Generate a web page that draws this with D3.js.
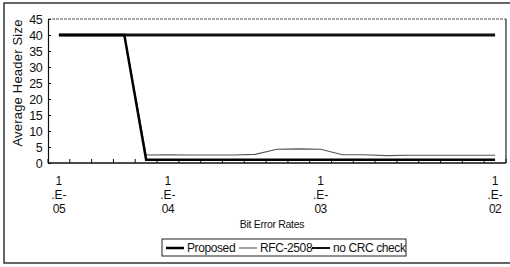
<!DOCTYPE html>
<html>
<head>
<meta charset="utf-8">
<script src="https://cdn.jsdelivr.net/npm/d3@7"></script>
<style>
    body { margin: 0; background: #fff; }
    text { font-family: "Liberation Sans", Arial, sans-serif; fill: #111; }
</style>
</head>
<body>
<svg id="chart" width="510" height="267"></svg>
<script>
"use strict";

// bit error rates (category axis)
const categories = ["1E-5", "2E-5", "3E-5", "4E-5", "6E-5", "1E-4", "2E-4", "3E-4", "4E-4", "5E-4", "6E-4",
    "8E-4", "1E-3", "1.5E-3", "2E-3", "3E-3", "4E-3", "5E-3", "6E-3", "8E-3", "1E-2"];
// only the powers of ten get a label
const tickLabels = { "1E-5": "05", "1E-4": "04", "1E-3": "03", "1E-2": "02" };
const yTicks = [0, 5, 10, 15, 20, 25, 30, 35, 40, 45];

const proposed = [40, 40, 40, 40, 1, 1, 1, 1, 1, 1, 1, 1, 1, 1, 1, 1, 1, 1, 1, 1, 1];
const rfc2508 = [40, 40, 40, 40, 2.5, 2.6, 2.5, 2.5, 2.5, 2.7, 4.3, 4.4, 4.3, 2.6, 2.6, 2.3, 2.4, 2.4, 2.4, 2.4, 2.4];
const noCrc = [40, 40, 40, 40, 40, 40, 40, 40, 40, 40, 40, 40, 40, 40, 40, 40, 40, 40, 40, 40, 40];

const seriesNames = ["Proposed", "RFC-2508", "no CRC check"];

const svg = d3.select("#chart");

// outer chart frame (cut off on the right like the scan)
svg.append("rect")
    .attr("x", 4).attr("y", 3)
    .attr("width", 520).attr("height", 260)
    .attr("fill", "none")
    .attr("stroke", "#333")
    .attr("stroke-width", 1.5);

const plotLeft = 48, plotRight = 506, plotTop = 19, plotBottom = 163;

const x = d3.scaleBand()
    .domain(categories)
    .range([plotLeft, plotRight])
    .paddingInner(0).paddingOuter(0);

const y = d3.scaleLinear()
    .domain([0, 45])
    .range([plotBottom, plotTop]);

const cx = c => x(c) + x.bandwidth() / 2;

// plot area border: top and right
svg.append("line")
    .attr("x1", plotLeft).attr("x2", plotRight)
    .attr("y1", y(45)).attr("y2", y(45))
    .attr("stroke", "#555")
    .attr("stroke-dasharray", "3,1");
svg.append("line")
    .attr("x1", plotRight).attr("x2", plotRight)
    .attr("y1", y(45)).attr("y2", y(0))
    .attr("stroke", "#222")
    .attr("stroke-width", 1.2);

// y axis
const yAxis = svg.append("g")
    .attr("transform", `translate(${plotLeft},0)`)
    .call(d3.axisLeft(y).tickValues(yTicks).tickSize(-3).tickPadding(6));
yAxis.select(".domain").attr("stroke", "#111").attr("stroke-width", 1.2);
yAxis.selectAll("line").attr("stroke", "#111");
yAxis.selectAll("text")
    .style("font-size", "12.5px")
    .style("font-family", "'Liberation Sans', Arial, sans-serif")
    .attr("fill", "#000")
    .attr("letter-spacing", "-0.6");

// x axis line and ticks at category boundaries
svg.append("line")
    .attr("x1", plotLeft).attr("x2", plotRight)
    .attr("y1", y(0)).attr("y2", y(0))
    .attr("stroke", "#111")
    .attr("stroke-width", 1.5);

const boundaries = categories.map(c => x(c)).concat([x.range()[1]]);
svg.selectAll(".xtick")
    .data(boundaries)
    .enter()
    .append("line")
    .attr("class", "xtick")
    .attr("x1", d => d).attr("x2", d => d)
    .attr("y1", y(0)).attr("y2", y(0) - 4)
    .attr("stroke", "#111");

// x tick labels: 1 / .E- / exponent
const labelled = categories.filter(c => tickLabels[c]);
const xl = svg.selectAll(".xlabel")
    .data(labelled)
    .enter()
    .append("text")
    .attr("class", "xlabel")
    .attr("text-anchor", "middle")
    .style("font-size", "12px");
xl.append("tspan").attr("x", d => cx(d)).attr("y", 185).text("1");
xl.append("tspan").attr("x", d => cx(d)).attr("y", 199).text(".E-");
xl.append("tspan").attr("x", d => cx(d)).attr("y", 213).attr("letter-spacing", "-0.5").text(d => tickLabels[d]);

// axis titles
svg.append("text")
    .attr("x", 272).attr("y", 228)
    .attr("text-anchor", "middle")
    .style("font-size", "10.5px")
    .attr("letter-spacing", "-0.3")
    .text("Bit Error Rates");

svg.append("text")
    .attr("transform", "translate(22,83) rotate(-90)")
    .attr("text-anchor", "middle")
    .style("font-size", "13px")
    .attr("letter-spacing", "0.2")
    .text("Average Header Size");

// lines
const line = d3.line()
    .x((d, i) => cx(categories[i]))
    .y(d => y(d));

const styles = [
    { data: noCrc, stroke: "#111", width: 2.8 },
    { data: rfc2508, stroke: "#555", width: 1.1 },
    { data: proposed, stroke: "#000", width: 2.5 }
];

svg.selectAll(".series")
    .data(styles)
    .enter()
    .append("path")
    .attr("class", "series")
    .attr("d", d => line(d.data))
    .attr("fill", "none")
    .attr("stroke", d => d.stroke)
    .attr("stroke-width", d => d.width);

// legend
const legend = svg.append("g");
legend.append("rect")
    .attr("x", 162).attr("y", 239)
    .attr("width", 244).attr("height", 17)
    .attr("fill", "#fff")
    .attr("stroke", "#222");

const legendItems = [
    { name: seriesNames[0], x: 166, stroke: "#000", width: 2.5 },
    { name: seriesNames[1], x: 239, stroke: "#555", width: 1.1 },
    { name: seriesNames[2], x: 312, stroke: "#111", width: 2 }
];
const li = legend.selectAll(".item")
    .data(legendItems)
    .enter()
    .append("g");
li.append("line")
    .attr("x1", d => d.x).attr("x2", d => d.x + 18)
    .attr("y1", 248).attr("y2", 248)
    .attr("stroke", d => d.stroke)
    .attr("stroke-width", d => d.width);
li.append("text")
    .attr("x", d => d.x + 21)
    .attr("y", 252)
    .style("font-size", "12px")
    .attr("letter-spacing", "-0.4")
    .text(d => d.name);
</script>
</body>
</html>
